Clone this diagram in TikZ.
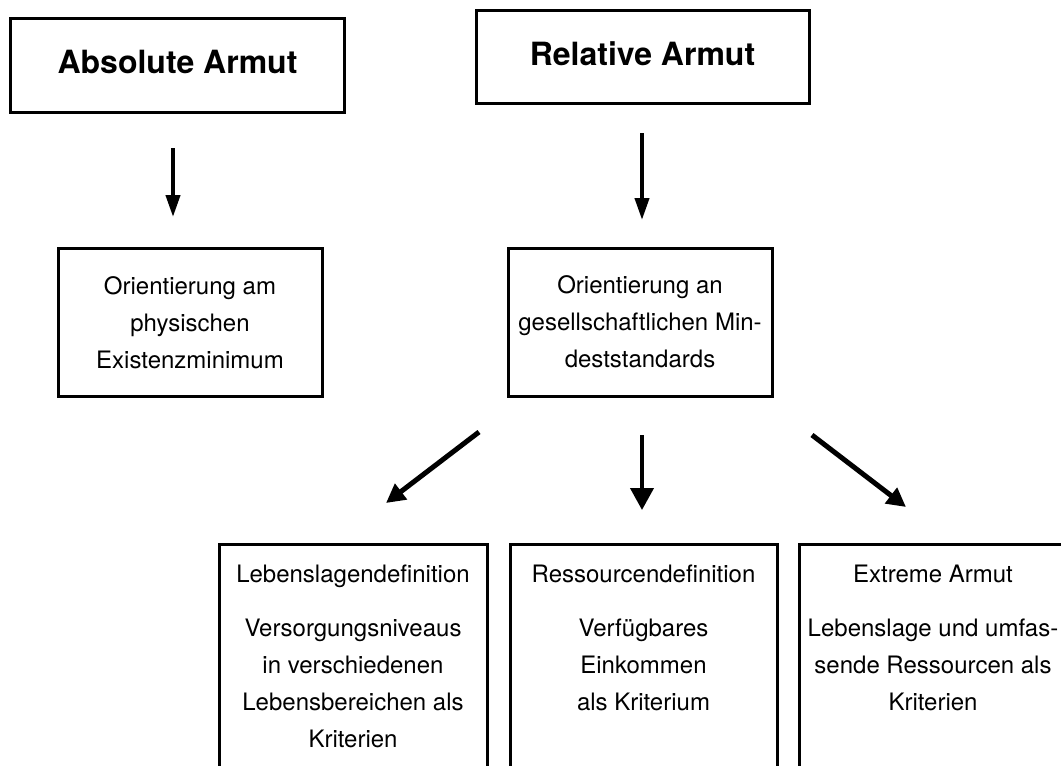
\documentclass[tikz,border=0pt]{standalone}
\usepackage{fontspec}
\setmainfont{TeX Gyre Heros}
\usetikzlibrary{arrows.meta}
\begin{document}
\begin{tikzpicture}[x=1pt,y=-1pt,
  box/.style={draw, line width=3pt, inner sep=0pt, align=center},
  body/.style={font=\fontsize{24}{37}\selectfont},
  titletext/.style={font=\fontsize{32}{38}\selectfont\bfseries},
  txt/.style={body, align=center, anchor=north, inner sep=0pt},
  toparrow/.style={line width=4pt, -{Triangle[width=14pt,length=22pt]}},
  midarrow/.style={line width=4pt, -{Triangle[width=23pt,length=22pt]}},
  diagarrow/.style={line width=5pt, -{Triangle[width=19pt,length=19pt]}}
]
\fill[white] (0,0) rectangle (1061,766);
\useasboundingbox (0,0) rectangle (1061,766);
\clip (0,0) rectangle (1061,766);

% top boxes
\node[box, titletext, minimum width=334pt, minimum height=94pt] (abs) at (177.5,65) {\raisebox{7pt}{Absolute Armut}};
\node[box, titletext, minimum width=333pt, minimum height=93pt] (rel) at (642.5,56.5) {\raisebox{5.4pt}{Relative Armut}};

% middle boxes
\node[box, body, minimum width=264pt, minimum height=148pt] (oam) at (190,322.5) {Orientierung am\\physischen\\Existenzminimum};
\node[box, body, minimum width=264pt, minimum height=148pt] (oan) at (640,322) {Orientierung an\\gesellschaftlichen Min-\\deststandards};

% bottom boxes
\node[box, minimum width=268pt, minimum height=300pt, anchor=north] (lb) at (353,543) {};
\node[box, minimum width=267pt, minimum height=300pt, anchor=north] (rs) at (643.5,543) {};
\node[box, minimum width=268pt, minimum height=300pt, anchor=north] (ex) at (933,543) {};

\node[txt] (lbt) at (353,565) {Lebenslagendefinition\\[17pt]Versorgungsniveaus\\in verschiedenen\\Lebensbereichen als\\Kriterien};
\node[txt] (rst) at (643.5,565) {Ressourcendefinition\\[17pt]Verfügbares\\Einkommen\\als Kriterium};
\node[txt] (ext) at (933,565) {Extreme Armut\\[17pt]Lebenslage und umfas-\\sende Ressourcen als\\Kriterien};

% arrows
\coordinate (p1) at (173,148); \coordinate (q1) at (173,217);
\coordinate (p2) at (642,133); \coordinate (q2) at (642,220);
\coordinate (p3) at (479,432); \coordinate (q3) at (386,503);
\coordinate (p4) at (642,435); \coordinate (q4) at (642,510);
\coordinate (p5) at (812,435); \coordinate (q5) at (906,507);

\draw[toparrow] (p1) -- (q1);
\draw[toparrow] (p2) -- (q2);
\draw[diagarrow] (p3) -- (q3);
\draw[midarrow] (p4) -- (q4);
\draw[diagarrow] (p5) -- (q5);
\end{tikzpicture}
\end{document}
